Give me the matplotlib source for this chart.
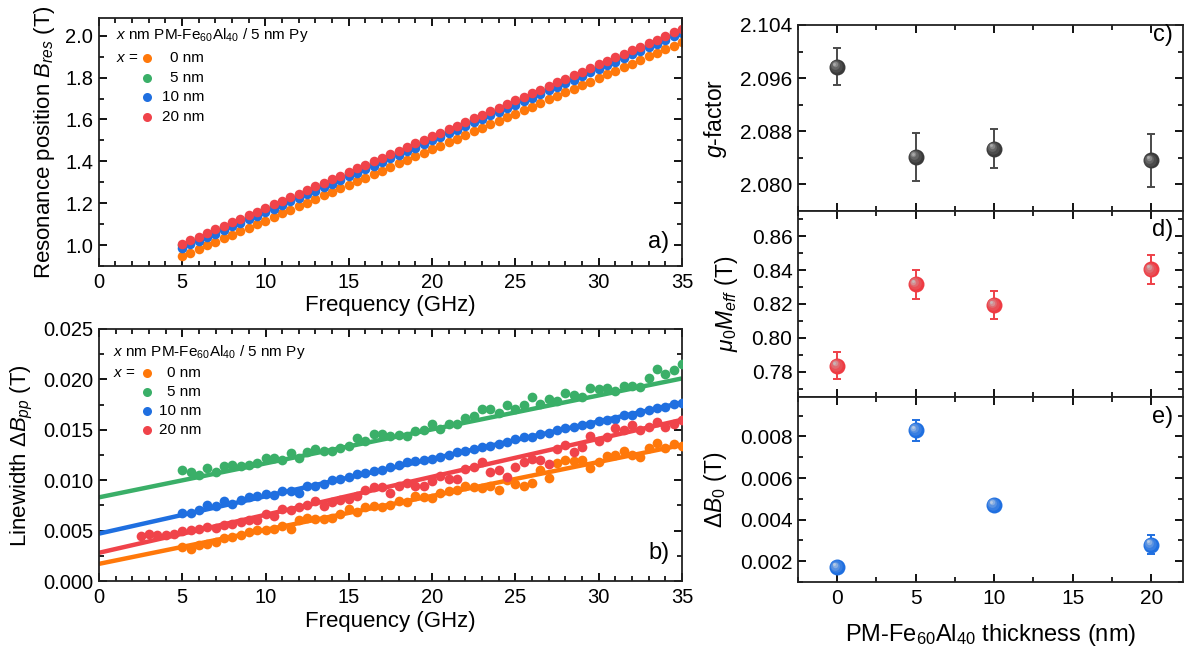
import numpy as np
import matplotlib
matplotlib.use("Agg")
import matplotlib.pyplot as plt
import matplotlib.transforms as mtransforms
from matplotlib.ticker import MultipleLocator, FormatStrFormatter
from matplotlib.colors import to_rgb

# ---------------------------------------------------------------- data
thickness_labels = ["0 nm", "5 nm", "10 nm", "20 nm"]
thickness = [0, 5, 10, 20]

c_orange = "#FF780A"
c_green = "#3AAF68"
c_blue = "#1F6FE0"
c_red = "#F0434A"
series_colors = [c_orange, c_green, c_blue, c_red]

freq = [5.0, 5.5, 6.0, 6.5, 7.0, 7.5, 8.0, 8.5, 9.0, 9.5,
        10.0, 10.5, 11.0, 11.5, 12.0, 12.5, 13.0, 13.5, 14.0, 14.5,
        15.0, 15.5, 16.0, 16.5, 17.0, 17.5, 18.0, 18.5, 19.0, 19.5,
        20.0, 20.5, 21.0, 21.5, 22.0, 22.5, 23.0, 23.5, 24.0, 24.5,
        25.0, 25.5, 26.0, 26.5, 27.0, 27.5, 28.0, 28.5, 29.0, 29.5,
        30.0, 30.5, 31.0, 31.5, 32.0, 32.5, 33.0, 33.5, 34.0, 34.5, 35.0]
freq_low = [2.5, 3.0, 3.5, 4.0, 4.5]

# resonance field B_res (T) versus frequency
bres_0nm = [0.947, 0.964, 0.981, 0.998, 1.015, 1.032, 1.049, 1.066, 1.083, 1.100,
            1.117, 1.134, 1.151, 1.168, 1.185, 1.202, 1.219, 1.237, 1.254, 1.271,
            1.288, 1.305, 1.322, 1.339, 1.356, 1.373, 1.390, 1.407, 1.424, 1.441,
            1.458, 1.475, 1.492, 1.509, 1.526, 1.543, 1.560, 1.577, 1.594, 1.611,
            1.628, 1.645, 1.662, 1.679, 1.696, 1.713, 1.730, 1.747, 1.764, 1.781,
            1.799, 1.816, 1.833, 1.850, 1.867, 1.884, 1.901, 1.918, 1.935, 1.952, 1.969]
bres_5nm = [0.999, 1.016, 1.033, 1.050, 1.068, 1.085, 1.102, 1.119, 1.136, 1.153,
            1.170, 1.187, 1.205, 1.222, 1.239, 1.256, 1.273, 1.290, 1.307, 1.324,
            1.342, 1.359, 1.376, 1.393, 1.410, 1.427, 1.444, 1.462, 1.479, 1.496,
            1.513, 1.530, 1.547, 1.564, 1.581, 1.599, 1.616, 1.633, 1.650, 1.667,
            1.684, 1.701, 1.718, 1.736, 1.753, 1.770, 1.787, 1.804, 1.821, 1.838,
            1.856, 1.873, 1.890, 1.907, 1.924, 1.941, 1.958, 1.975, 1.993, 2.010, 2.027]
bres_10nm = [0.986, 1.003, 1.020, 1.037, 1.055, 1.072, 1.089, 1.106, 1.123, 1.140,
             1.157, 1.174, 1.192, 1.209, 1.226, 1.243, 1.260, 1.277, 1.294, 1.311,
             1.329, 1.346, 1.363, 1.380, 1.397, 1.414, 1.431, 1.449, 1.466, 1.483,
             1.500, 1.517, 1.534, 1.551, 1.568, 1.586, 1.603, 1.620, 1.637, 1.654,
             1.671, 1.688, 1.705, 1.723, 1.740, 1.757, 1.774, 1.791, 1.808, 1.825,
             1.843, 1.860, 1.877, 1.894, 1.911, 1.928, 1.945, 1.962, 1.980, 1.997, 2.014]
bres_20nm = [1.006, 1.023, 1.040, 1.057, 1.075, 1.092, 1.109, 1.126, 1.143, 1.160,
             1.177, 1.194, 1.212, 1.229, 1.246, 1.263, 1.280, 1.297, 1.314, 1.331,
             1.349, 1.366, 1.383, 1.400, 1.417, 1.434, 1.451, 1.469, 1.486, 1.503,
             1.520, 1.537, 1.554, 1.571, 1.588, 1.606, 1.623, 1.640, 1.657, 1.674,
             1.691, 1.708, 1.725, 1.743, 1.760, 1.777, 1.794, 1.811, 1.828, 1.845,
             1.863, 1.880, 1.897, 1.914, 1.931, 1.948, 1.965, 1.982, 2.000, 2.017, 2.034]

# peak-to-peak linewidth dB_pp (T) versus frequency
dbpp_0nm = [0.0034, 0.0032, 0.0036, 0.0037, 0.0039, 0.0043, 0.0044, 0.0046, 0.0049, 0.0051,
            0.0051, 0.0052, 0.0055, 0.0052, 0.0061, 0.0063, 0.0062, 0.0062, 0.0063, 0.0066,
            0.0071, 0.0068, 0.0073, 0.0074, 0.0073, 0.0075, 0.0079, 0.0078, 0.0084, 0.0083,
            0.0082, 0.0087, 0.0089, 0.0090, 0.0094, 0.0093, 0.0092, 0.0094, 0.0090, 0.0100,
            0.0096, 0.0094, 0.0097, 0.0110, 0.0102, 0.0117, 0.0120, 0.0119, 0.0120, 0.0112,
            0.0118, 0.0124, 0.0125, 0.0129, 0.0125, 0.0123, 0.0132, 0.0137, 0.0132, 0.0136, 0.0134]
dbpp_5nm = [0.0110, 0.0108, 0.0105, 0.0112, 0.0108, 0.0114, 0.0115, 0.0114, 0.0115, 0.0117,
            0.0122, 0.0122, 0.0120, 0.0127, 0.0122, 0.0128, 0.0131, 0.0129, 0.0129, 0.0132,
            0.0134, 0.0142, 0.0139, 0.0146, 0.0146, 0.0144, 0.0145, 0.0144, 0.0149, 0.0150,
            0.0156, 0.0151, 0.0156, 0.0156, 0.0162, 0.0164, 0.0171, 0.0171, 0.0167, 0.0175,
            0.0171, 0.0175, 0.0183, 0.0176, 0.0181, 0.0179, 0.0187, 0.0185, 0.0183, 0.0191,
            0.0190, 0.0191, 0.0188, 0.0193, 0.0193, 0.0192, 0.0201, 0.0210, 0.0205, 0.0209, 0.0215]
dbpp_10nm = [0.0067, 0.0067, 0.0070, 0.0075, 0.0074, 0.0079, 0.0076, 0.0080, 0.0083, 0.0084,
             0.0086, 0.0085, 0.0089, 0.0089, 0.0087, 0.0094, 0.0094, 0.0096, 0.0100, 0.0101,
             0.0103, 0.0106, 0.0107, 0.0109, 0.0110, 0.0113, 0.0115, 0.0118, 0.0119, 0.0120,
             0.0121, 0.0123, 0.0125, 0.0128, 0.0129, 0.0131, 0.0133, 0.0134, 0.0136, 0.0138,
             0.0141, 0.0143, 0.0143, 0.0146, 0.0147, 0.0150, 0.0152, 0.0153, 0.0155, 0.0156,
             0.0159, 0.0160, 0.0161, 0.0165, 0.0165, 0.0168, 0.0170, 0.0172, 0.0173, 0.0176, 0.0177]
dbpp_20nm = [0.0045, 0.0047, 0.0046, 0.0046, 0.0047,
             0.0050, 0.0051, 0.0052, 0.0054, 0.0053, 0.0056, 0.0057, 0.0059, 0.0061, 0.0061,
             0.0066, 0.0064, 0.0071, 0.0070, 0.0073, 0.0075, 0.0079, 0.0074, 0.0078, 0.0080,
             0.0081, 0.0084, 0.0090, 0.0093, 0.0093, 0.0087, 0.0094, 0.0097, 0.0094, 0.0094,
             0.0099, 0.0104, 0.0101, 0.0101, 0.0111, 0.0113, 0.0118, 0.0108, 0.0110, 0.0103,
             0.0113, 0.0118, 0.0121, 0.0120, 0.0116, 0.0131, 0.0135, 0.0128, 0.0133, 0.0144,
             0.0139, 0.0143, 0.0152, 0.0150, 0.0155, 0.0150, 0.0153, 0.0158, 0.0153, 0.0156, 0.0160]

# linear fits dB_pp = dB0 + slope * f
fit_slope = [0.000337, 0.000337, 0.000371, 0.000377]

# extracted parameters versus PM-Fe60Al40 thickness
g_factor = [2.0977, 2.0841, 2.0854, 2.0836]
g_err = [0.0028, 0.0036, 0.0030, 0.0040]
mu0_meff = [0.7835, 0.8316, 0.8192, 0.8404]
meff_err = [0.0079, 0.0084, 0.0083, 0.0083]
delta_b0 = [0.0017, 0.0083, 0.0047, 0.0028]
b0_err = [0.0002, 0.0005, 0.0001, 0.00045]

# ---------------------------------------------------------------- style
plt.rcParams.update({
    "font.family": ["Liberation Sans", "DejaVu Sans"],
    "mathtext.fontset": "custom",
    "mathtext.rm": "Liberation Sans",
    "mathtext.it": "Liberation Sans:italic",
    "mathtext.bf": "Liberation Sans:bold",
    "axes.linewidth": 1.3,
    "axes.edgecolor": "#222222",
    "xtick.direction": "in", "ytick.direction": "in",
    "xtick.top": True, "ytick.right": True,
    "xtick.major.size": 6, "ytick.major.size": 6,
    "xtick.minor.size": 3.5, "ytick.minor.size": 3.5,
    "xtick.major.width": 1.3, "ytick.major.width": 1.3,
    "xtick.minor.width": 1.2, "ytick.minor.width": 1.2,
    "xtick.minor.visible": True, "ytick.minor.visible": True,
    "xtick.major.pad": 5, "ytick.major.pad": 4,
})

fig = plt.figure(figsize=(11.85, 6.47), dpi=100)
ax_a = fig.add_axes([0.0833, 0.5889, 0.4922, 0.3833])
ax_b = fig.add_axes([0.0835, 0.1020, 0.4920, 0.3895])
ax_c = fig.add_axes([0.6734, 0.6739, 0.3246, 0.2875])
ax_d = fig.add_axes([0.6734, 0.3864, 0.3246, 0.2875])
ax_e = fig.add_axes([0.6734, 0.1005, 0.3246, 0.2859])

tick_fs_left = 14.5
tick_fs_right = 15
label_fs = 16


def legend_block(ax, y_title, y_rows, x_title, x_mark, x_text):
    ax.text(x_title, y_title, r"$x$ nm PM-Fe$_{60}$Al$_{40}$ / 5 nm Py",
            transform=ax.transAxes, fontsize=11, va="center", ha="left")
    ax.text(x_title, y_rows[0], r"$x$ =", transform=ax.transAxes,
            fontsize=11, va="center", ha="left")
    for yr, col, lab in zip(y_rows, series_colors, thickness_labels):
        ax.plot([x_mark], [yr], "o", ms=6.5, color=col, mew=0,
                transform=ax.transAxes, clip_on=False)
        ax.text(x_text, yr, lab, transform=ax.transAxes, fontsize=11,
                va="center", ha="right")


# ---------------------------------------------------------------- panel a
for ys, col in zip([bres_0nm, bres_5nm, bres_10nm, bres_20nm], series_colors):
    ax_a.plot(freq, ys, "o", ms=6.9, color=col, mew=0, ls="none")
ax_a.set_xlim(0, 35)
ax_a.set_ylim(0.9, 2.085)
ax_a.xaxis.set_major_locator(MultipleLocator(5))
ax_a.xaxis.set_minor_locator(MultipleLocator(1))
ax_a.yaxis.set_major_locator(MultipleLocator(0.2))
ax_a.yaxis.set_minor_locator(MultipleLocator(0.1))
ax_a.yaxis.set_major_formatter(FormatStrFormatter("%.1f"))
ax_a.tick_params(labelsize=tick_fs_left)
ax_a.set_xlabel("Frequency (GHz)", fontsize=label_fs, labelpad=2)
ax_a.set_ylabel(r"Resonance position $B_{res}$ (T)", fontsize=label_fs, labelpad=6)
ax_a.text(0.978, 0.097, "a)", transform=ax_a.transAxes, fontsize=17,
          ha="right", va="center")
legend_block(ax_a, 0.931, [0.837, 0.760, 0.681, 0.602], 0.030, 0.082, 0.181)

# ---------------------------------------------------------------- panel b
f_line = np.array([0.0, 35.0])
b_sets = [(freq, dbpp_0nm), (freq, dbpp_5nm), (freq, dbpp_10nm),
          (freq_low + freq, dbpp_20nm)]
for (fx, ys), col, b0, sl in zip(b_sets, series_colors, delta_b0, fit_slope):
    ax_b.plot(fx, ys, "o", ms=7.0, color=col, mew=0, ls="none", zorder=3)
    ax_b.plot(f_line, b0 + sl * f_line, "-", color=col, lw=3.2, zorder=2,
              solid_capstyle="butt")
ax_b.set_xlim(0, 35)
ax_b.set_ylim(0, 0.025)
ax_b.xaxis.set_major_locator(MultipleLocator(5))
ax_b.xaxis.set_minor_locator(MultipleLocator(1))
ax_b.yaxis.set_major_locator(MultipleLocator(0.005))
ax_b.yaxis.set_minor_locator(MultipleLocator(0.0025))
ax_b.yaxis.set_major_formatter(FormatStrFormatter("%.3f"))
ax_b.tick_params(labelsize=tick_fs_left)
ax_b.set_xlabel("Frequency (GHz)", fontsize=label_fs, labelpad=3)
ax_b.set_ylabel(r"Linewidth $\Delta B_{pp}$ (T)", fontsize=label_fs, labelpad=6)
ax_b.text(0.978, 0.11, "b)", transform=ax_b.transAxes, fontsize=17,
          ha="right", va="center")
legend_block(ax_b, 0.910, [0.827, 0.750, 0.675, 0.599], 0.0235, 0.083, 0.175)


# ---------------------------------------------------------------- panels c-e
def sphere(ax, xs, ys, color, shine, ms=11.5):
    """Shaded ball markers: base disc plus lighter layers shifted up-left."""
    base = np.array(to_rgb(color))
    sh = np.array(to_rgb(shine))
    ax.plot(xs, ys, "o", ms=ms, color=color, mew=0, ls="none", zorder=4)
    layers = [(0.78, 0.15, 0.06), (0.55, 0.35, 0.12), (0.34, 0.62, 0.17),
              (0.18, 0.90, 0.20)]
    for frac, w, sft in layers:
        col = base * (1 - w) + sh * w
        tr = mtransforms.offset_copy(ax.transData, fig=ax.figure,
                                     x=-ms * sft, y=ms * sft, units="points")
        ax.plot(xs, ys, "o", ms=ms * frac, color=col, mew=0, ls="none",
                zorder=5, transform=tr)


ax_c.errorbar(thickness, g_factor, yerr=g_err, fmt="none", ecolor="#4a4a4a",
              elinewidth=1.4, capsize=3.2, capthick=1.4, zorder=3)
sphere(ax_c, thickness, g_factor, "#3a3a3a", "#b5b5b5")
ax_d.errorbar(thickness, mu0_meff, yerr=meff_err, fmt="none", ecolor="#ee4048",
              elinewidth=1.4, capsize=3.2, capthick=1.4, zorder=3)
sphere(ax_d, thickness, mu0_meff, "#ee3b43", "#c4c4c4")
ax_e.errorbar(thickness, delta_b0, yerr=b0_err, fmt="none", ecolor="#1f6fe0",
              elinewidth=1.4, capsize=3.2, capthick=1.4, zorder=3)
sphere(ax_e, thickness, delta_b0, "#1f6fe0", "#c8d4e4")

for ax in (ax_c, ax_d, ax_e):
    ax.set_xlim(-2.5, 22.0)
    ax.xaxis.set_major_locator(MultipleLocator(5))
    ax.xaxis.set_minor_locator(MultipleLocator(2.5))
    ax.tick_params(labelsize=tick_fs_right)
ax_c.tick_params(labelbottom=False)
ax_d.tick_params(labelbottom=False)

ax_c.set_ylim(2.076, 2.104)
ax_c.yaxis.set_major_locator(MultipleLocator(0.008))
ax_c.yaxis.set_minor_locator(MultipleLocator(0.004))
ax_c.yaxis.set_major_formatter(FormatStrFormatter("%.3f"))
ax_c.set_ylabel(r"$g$-factor", fontsize=label_fs + 0.5, labelpad=8)

ax_d.set_ylim(0.765, 0.875)
ax_d.yaxis.set_major_locator(MultipleLocator(0.02))
ax_d.yaxis.set_minor_locator(MultipleLocator(0.01))
ax_d.yaxis.set_major_formatter(FormatStrFormatter("%.2f"))
ax_d.set_ylabel(r"$\mu_0M_{eff}$ (T)", fontsize=label_fs + 0.5, labelpad=8)

ax_e.set_ylim(0.001, 0.0099)
ax_e.yaxis.set_major_locator(MultipleLocator(0.002))
ax_e.yaxis.set_minor_locator(MultipleLocator(0.001))
ax_e.yaxis.set_major_formatter(FormatStrFormatter("%.3f"))
ax_e.set_ylabel(r"$\Delta B_0$ (T)", fontsize=label_fs + 0.5, labelpad=8)
ax_e.set_xlabel(r"PM-Fe$_{60}$Al$_{40}$ thickness (nm)", fontsize=17, labelpad=10)

for ax, lab, yy in ((ax_c, "c)", 0.946), (ax_d, "d)", 0.90), (ax_e, "e)", 0.894)):
    ax.text(0.975, yy, lab, transform=ax.transAxes, fontsize=17,
            ha="right", va="center")

fig.savefig("out.png", dpi=100)
